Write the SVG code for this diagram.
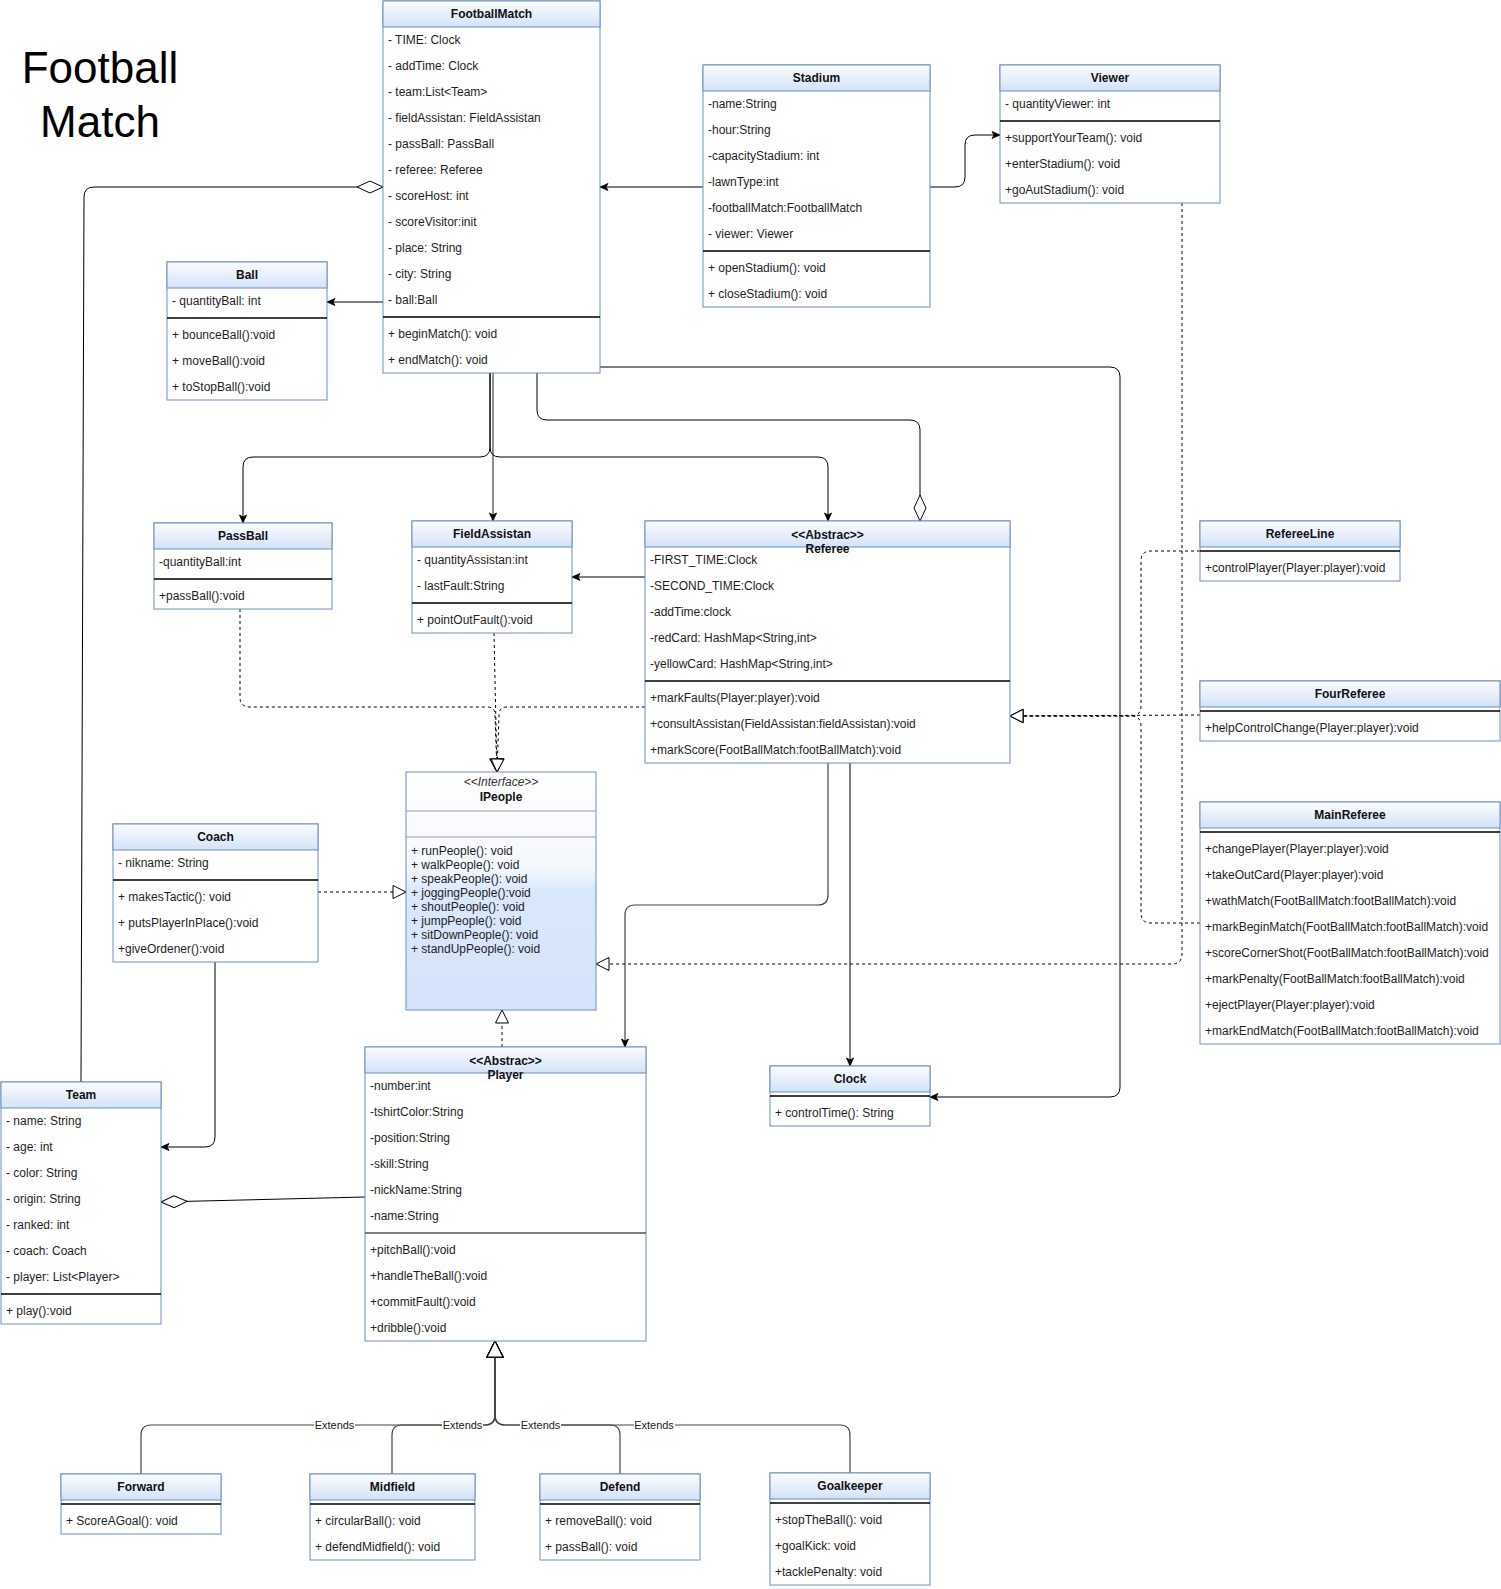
<svg xmlns="http://www.w3.org/2000/svg" width="1501" height="1589" viewBox="0 0 1501 1589">
<defs>
<linearGradient id="hg" x1="0" y1="0" x2="0" y2="1">
<stop offset="0" stop-color="#fbfcfe"/>
<stop offset="1" stop-color="#d3e2f8"/>
</linearGradient>
<linearGradient id="ig" x1="0" y1="0" x2="0" y2="1">
<stop offset="0" stop-color="#ffffff"/>
<stop offset="0.4" stop-color="#f4f8fe"/>
<stop offset="0.5" stop-color="#dae8fc"/>
<stop offset="1" stop-color="#d4e3f9"/>
</linearGradient>
<marker id="arr" markerWidth="10" markerHeight="10" refX="8" refY="3.5" orient="auto" markerUnits="userSpaceOnUse" overflow="visible">
<path d="M0,0 L8,3.5 L0,7 L2,3.5 z" fill="#000" stroke="#000" stroke-width="0.8" stroke-dasharray="none"/>
</marker>
<marker id="tri" markerWidth="14" markerHeight="14" refX="13" refY="6.5" orient="auto" markerUnits="userSpaceOnUse" overflow="visible">
<path d="M0,0 L13,6.5 L0,13 z" fill="#fff" stroke="#000" stroke-width="1" stroke-dasharray="none"/>
</marker>
<marker id="tri2" markerWidth="18" markerHeight="18" refX="16" refY="8" orient="auto" markerUnits="userSpaceOnUse" overflow="visible">
<path d="M0,0 L16,8 L0,16 z" fill="#fff" stroke="#000" stroke-width="1.2" stroke-dasharray="none"/>
</marker>
<marker id="dia" markerWidth="28" markerHeight="14" refX="26" refY="6" orient="auto" markerUnits="userSpaceOnUse" overflow="visible">
<path d="M0,6 L13,0 L26,6 L13,12 z" fill="#fff" stroke="#000" stroke-width="1" stroke-dasharray="none"/>
</marker>
</defs>
<style>
.b{fill:#fff;stroke:#6c8ebf;stroke-width:1}
.h{fill:url(#hg);stroke:#6c8ebf;stroke-width:1}
.s{stroke:#000;stroke-width:1.3}
.g{stroke:#999;stroke-width:1}
text{font-family:"Liberation Sans",Arial,Helvetica,sans-serif;font-size:12px;fill:#1e1e1e}
.t{font-weight:bold;text-anchor:middle;fill:#111}
.st{font-style:italic;text-anchor:middle;fill:#333}
.ttl{font-size:44px;text-anchor:middle;fill:#000}
.lbl{font-size:11px;text-anchor:middle;fill:#222}
.c{fill:none;stroke:#000;stroke-width:1}
.cg{fill:none;stroke:#444;stroke-width:1.2}
.d{fill:none;stroke:#000;stroke-width:1;stroke-dasharray:3 3}
</style>

<g id="title">
<text class="ttl" x="100" y="83">Football</text>
<text class="ttl" x="100" y="137">Match</text>
</g>

<g id="connectors">
<path class="c" d="M703,187 L600,187" marker-end="url(#arr)"/>
<path class="c" d="M930,187 L955,187 Q965,187 965,177 L965,145 Q965,135 975,135 L1000,135" marker-end="url(#arr)"/>
<path class="c" d="M383,302 L327,302" marker-end="url(#arr)"/>
<path class="c" d="M81,1082 L84,197 Q84,187 94,187 L383,187" marker-end="url(#dia)"/>
<path class="c" d="M490,373 L490,447 Q490,457 480,457 L253,457 Q243,457 243,467 L243,523" marker-end="url(#arr)"/>
<path class="cg" d="M493,373 L493,521" marker-end="url(#arr)"/>
<path class="c" d="M490,373 L490,447 Q490,457 500,457 L818,457 Q828,457 828,467 L828,521" marker-end="url(#arr)"/>
<path class="c" d="M537,373 L537,410 Q537,420 547,420 L910,420 Q920,420 920,430 L920,521" marker-end="url(#dia)"/>
<path class="c" d="M600,367 L1110,367 Q1120,367 1120,377 L1120,1087 Q1120,1097 1110,1097 L930,1097" marker-end="url(#arr)"/>
<path class="c" d="M645,577 L572,577" marker-end="url(#arr)"/>
<path class="cg" d="M828,763 L828,895 Q828,905 818,905 L635,905 Q625,905 625,915 L625,1047" marker-end="url(#arr)"/>
<path class="c" d="M850,763 L850,1066" marker-end="url(#arr)"/>
<path class="c" d="M215,962 L215,1137 Q215,1147 205,1147 L161,1147" marker-end="url(#arr)"/>
<path class="c" d="M365,1197 L161,1202" marker-end="url(#dia)"/>
<path class="d" d="M240,609 L240,697 Q240,707 250,707 L487,707 Q495,707 495,715 L497,772" marker-end="url(#tri)"/>
<path class="d" d="M494,633 L497,772" marker-end="url(#tri)"/>
<path class="d" d="M645,707 L507,707 Q499,707 499,715 L497,772" marker-end="url(#tri)"/>
<path class="d" d="M318,892 L406,892" marker-end="url(#tri)"/>
<path class="d" d="M1182,203 L1182,954 Q1182,964 1172,964 L596,964" marker-end="url(#tri)"/>
<path class="d" d="M502,1047 L502,1010" marker-end="url(#tri)"/>
<path class="d" d="M1200,551 L1151,551 Q1141,551 1141,561 L1141,706 Q1141,716 1131,716 L1010,716" marker-end="url(#tri)"/>
<path class="d" d="M1200,715 L1010,716" marker-end="url(#tri)"/>
<path class="d" d="M1200,923 L1151,923 Q1141,923 1141,913 L1141,726 Q1141,716 1131,716 L1010,716" marker-end="url(#tri)"/>
<path class="cg" d="M141,1474 L141,1435 Q141,1425 151,1425 L485,1425 Q495,1425 495,1415 L495,1341" marker-end="url(#tri2)"/>
<path class="cg" d="M392,1474 L392,1435 Q392,1425 402,1425 L485,1425 Q495,1425 495,1415 L495,1341" marker-end="url(#tri2)"/>
<path class="cg" d="M620,1474 L620,1435 Q620,1425 610,1425 L505,1425 Q495,1425 495,1415 L495,1341" marker-end="url(#tri2)"/>
<path class="cg" d="M850,1473 L850,1435 Q850,1425 840,1425 L505,1425 Q495,1425 495,1415 L495,1341" marker-end="url(#tri2)"/>
<rect x="314" y="1419" width="41" height="12" fill="#fff"/>
<text class="lbl" x="334.5" y="1429">Extends</text>
<rect x="442" y="1419" width="41" height="12" fill="#fff"/>
<text class="lbl" x="462.5" y="1429">Extends</text>
<rect x="520" y="1419" width="41" height="12" fill="#fff"/>
<text class="lbl" x="540.5" y="1429">Extends</text>
<rect x="634" y="1419" width="41" height="12" fill="#fff"/>
<text class="lbl" x="654" y="1429">Extends</text>
</g>

<g id="FootballMatch">
<rect class="b" x="383" y="1" width="217" height="372"/>
<rect class="h" x="383" y="1" width="217" height="26"/>
<text class="t" x="491.5" y="18">FootballMatch</text>
<text x="388" y="44">- TIME: Clock</text>
<text x="388" y="70">- addTime: Clock</text>
<text x="388" y="96">- team:List&lt;Team&gt;</text>
<text x="388" y="122">- fieldAssistan: FieldAssistan</text>
<text x="388" y="148">- passBall: PassBall</text>
<text x="388" y="174">- referee: Referee</text>
<text x="388" y="200">- scoreHost: int</text>
<text x="388" y="226">- scoreVisitor:init</text>
<text x="388" y="252">- place: String</text>
<text x="388" y="278">- city: String</text>
<text x="388" y="304">- ball:Ball</text>
<line class="s" x1="383" y1="317" x2="600" y2="317"/>
<text x="388" y="338">+ beginMatch(): void</text>
<text x="388" y="364">+ endMatch(): void</text>
</g>

<g id="Stadium">
<rect class="b" x="703" y="65" width="227" height="242"/>
<rect class="h" x="703" y="65" width="227" height="26"/>
<text class="t" x="816.5" y="82">Stadium</text>
<text x="708" y="108">-name:String</text>
<text x="708" y="134">-hour:String</text>
<text x="708" y="160">-capacityStadium: int</text>
<text x="708" y="186">-lawnType:int</text>
<text x="708" y="212">-footballMatch:FootballMatch</text>
<text x="708" y="238">- viewer: Viewer</text>
<line class="s" x1="703" y1="251" x2="930" y2="251"/>
<text x="708" y="272">+ openStadium(): void</text>
<text x="708" y="298">+ closeStadium(): void</text>
</g>

<g id="Viewer">
<rect class="b" x="1000" y="65" width="220" height="138"/>
<rect class="h" x="1000" y="65" width="220" height="26"/>
<text class="t" x="1110" y="82">Viewer</text>
<text x="1005" y="108">- quantityViewer: int</text>
<line class="s" x1="1000" y1="121" x2="1220" y2="121"/>
<text x="1005" y="142">+supportYourTeam(): void</text>
<text x="1005" y="168">+enterStadium(): void</text>
<text x="1005" y="194">+goAutStadium(): void</text>
</g>

<g id="Ball">
<rect class="b" x="167" y="262" width="160" height="138"/>
<rect class="h" x="167" y="262" width="160" height="26"/>
<text class="t" x="247" y="279">Ball</text>
<text x="172" y="305">- quantityBall: int</text>
<line class="s" x1="167" y1="318" x2="327" y2="318"/>
<text x="172" y="339">+ bounceBall():void</text>
<text x="172" y="365">+ moveBall():void</text>
<text x="172" y="391">+ toStopBall():void</text>
</g>

<g id="PassBall">
<rect class="b" x="154" y="523" width="178" height="86"/>
<rect class="h" x="154" y="523" width="178" height="26"/>
<text class="t" x="243" y="540">PassBall</text>
<text x="159" y="566">-quantityBall:int</text>
<line class="s" x1="154" y1="579" x2="332" y2="579"/>
<text x="159" y="600">+passBall():void</text>
</g>

<g id="FieldAssistan">
<rect class="b" x="412" y="521" width="160" height="112"/>
<rect class="h" x="412" y="521" width="160" height="26"/>
<text class="t" x="492" y="538">FieldAssistan</text>
<text x="417" y="564">- quantityAssistan:int</text>
<text x="417" y="590">- lastFault:String</text>
<line class="s" x1="412" y1="603" x2="572" y2="603"/>
<text x="417" y="624">+ pointOutFault():void</text>
</g>

<g id="Referee">
<rect class="b" x="645" y="521" width="365" height="242"/>
<rect class="h" x="645" y="521" width="365" height="26"/>
<text class="t" x="827.5" y="539">&lt;&lt;Abstrac&gt;&gt;</text>
<text class="t" x="827.5" y="553">Referee</text>
<text x="650" y="564">-FIRST_TIME:Clock</text>
<text x="650" y="590">-SECOND_TIME:Clock</text>
<text x="650" y="616">-addTime:clock</text>
<text x="650" y="642">-redCard: HashMap&lt;String,int&gt;</text>
<text x="650" y="668">-yellowCard: HashMap&lt;String,int&gt;</text>
<line class="s" x1="645" y1="681" x2="1010" y2="681"/>
<text x="650" y="702">+markFaults(Player:player):void</text>
<text x="650" y="728">+consultAssistan(FieldAssistan:fieldAssistan):void</text>
<text x="650" y="754">+markScore(FootBallMatch:footBallMatch):void</text>
</g>

<g id="RefereeLine">
<rect class="b" x="1200" y="521" width="200" height="60"/>
<rect class="h" x="1200" y="521" width="200" height="26"/>
<text class="t" x="1300" y="538">RefereeLine</text>
<line class="s" x1="1200" y1="551" x2="1400" y2="551"/>
<text x="1205" y="572">+controlPlayer(Player:player):void</text>
</g>

<g id="FourReferee">
<rect class="b" x="1200" y="681" width="300" height="60"/>
<rect class="h" x="1200" y="681" width="300" height="26"/>
<text class="t" x="1350" y="698">FourReferee</text>
<line class="s" x1="1200" y1="711" x2="1500" y2="711"/>
<text x="1205" y="732">+helpControlChange(Player:player):void</text>
</g>

<g id="MainReferee">
<rect class="b" x="1200" y="802" width="300" height="242"/>
<rect class="h" x="1200" y="802" width="300" height="26"/>
<text class="t" x="1350" y="819">MainReferee</text>
<line class="s" x1="1200" y1="832" x2="1500" y2="832"/>
<text x="1205" y="853">+changePlayer(Player:player):void</text>
<text x="1205" y="879">+takeOutCard(Player:player):void</text>
<text x="1205" y="905">+wathMatch(FootBallMatch:footBallMatch):void</text>
<text x="1205" y="931">+markBeginMatch(FootBallMatch:footBallMatch):void</text>
<text x="1205" y="957">+scoreCornerShot(FootBallMatch:footBallMatch):void</text>
<text x="1205" y="983">+markPenalty(FootBallMatch:footBallMatch):void</text>
<text x="1205" y="1009">+ejectPlayer(Player:player):void</text>
<text x="1205" y="1035">+markEndMatch(FootBallMatch:footBallMatch):void</text>
</g>

<g id="IPeople">
<rect x="406" y="772" width="190" height="238" fill="url(#ig)" stroke="#6c8ebf"/>
<line class="g" x1="406" y1="811" x2="596" y2="811"/>
<line class="g" x1="406" y1="837" x2="596" y2="837"/>
<text class="st" x="501" y="786">&lt;&lt;Interface&gt;&gt;</text>
<text class="t" x="501" y="801">IPeople</text>
<text x="411" y="855">+ runPeople(): void</text>
<text x="411" y="869">+ walkPeople(): void</text>
<text x="411" y="883">+ speakPeople(): void</text>
<text x="411" y="897">+ joggingPeople():void</text>
<text x="411" y="911">+ shoutPeople(): void</text>
<text x="411" y="925">+ jumpPeople(): void</text>
<text x="411" y="939">+ sitDownPeople(): void</text>
<text x="411" y="953">+ standUpPeople(): void</text>
</g>

<g id="Coach">
<rect class="b" x="113" y="824" width="205" height="138"/>
<rect class="h" x="113" y="824" width="205" height="26"/>
<text class="t" x="215.5" y="841">Coach</text>
<text x="118" y="867">- nikname: String</text>
<line class="s" x1="113" y1="880" x2="318" y2="880"/>
<text x="118" y="901">+ makesTactic(): void</text>
<text x="118" y="927">+ putsPlayerInPlace():void</text>
<text x="118" y="953">+giveOrdener():void</text>
</g>

<g id="Team">
<rect class="b" x="1" y="1082" width="160" height="242"/>
<rect class="h" x="1" y="1082" width="160" height="26"/>
<text class="t" x="81" y="1099">Team</text>
<text x="6" y="1125">- name: String</text>
<text x="6" y="1151">- age: int</text>
<text x="6" y="1177">- color: String</text>
<text x="6" y="1203">- origin: String</text>
<text x="6" y="1229">- ranked: int</text>
<text x="6" y="1255">- coach: Coach</text>
<text x="6" y="1281">- player: List&lt;Player&gt;</text>
<line class="s" x1="1" y1="1294" x2="161" y2="1294"/>
<text x="6" y="1315">+ play():void</text>
</g>

<g id="Player">
<rect class="b" x="365" y="1047" width="281" height="294"/>
<rect class="h" x="365" y="1047" width="281" height="26"/>
<text class="t" x="505.5" y="1065">&lt;&lt;Abstrac&gt;&gt;</text>
<text class="t" x="505.5" y="1079">Player</text>
<text x="370" y="1090">-number:int</text>
<text x="370" y="1116">-tshirtColor:String</text>
<text x="370" y="1142">-position:String</text>
<text x="370" y="1168">-skill:String</text>
<text x="370" y="1194">-nickName:String</text>
<text x="370" y="1220">-name:String</text>
<line x1="365" y1="1233" x2="646" y2="1233" stroke="#555" stroke-width="1.6"/>
<text x="370" y="1254">+pitchBall():void</text>
<text x="370" y="1280">+handleTheBall():void</text>
<text x="370" y="1306">+commitFault():void</text>
<text x="370" y="1332">+dribble():void</text>
</g>

<g id="Clock">
<rect class="b" x="770" y="1066" width="160" height="60"/>
<rect class="h" x="770" y="1066" width="160" height="26"/>
<text class="t" x="850" y="1083">Clock</text>
<line class="s" x1="770" y1="1096" x2="930" y2="1096"/>
<text x="775" y="1117">+ controlTime(): String</text>
</g>

<g id="Forward">
<rect class="b" x="61" y="1474" width="160" height="60"/>
<rect class="h" x="61" y="1474" width="160" height="26"/>
<text class="t" x="141" y="1491">Forward</text>
<line class="s" x1="61" y1="1504" x2="221" y2="1504"/>
<text x="66" y="1525">+ ScoreAGoal(): void</text>
</g>

<g id="Midfield">
<rect class="b" x="310" y="1474" width="165" height="86"/>
<rect class="h" x="310" y="1474" width="165" height="26"/>
<text class="t" x="392.5" y="1491">Midfield</text>
<line class="s" x1="310" y1="1504" x2="475" y2="1504"/>
<text x="315" y="1525">+ circularBall(): void</text>
<text x="315" y="1551">+ defendMidfield(): void</text>
</g>

<g id="Defend">
<rect class="b" x="540" y="1474" width="160" height="86"/>
<rect class="h" x="540" y="1474" width="160" height="26"/>
<text class="t" x="620" y="1491">Defend</text>
<line class="s" x1="540" y1="1504" x2="700" y2="1504"/>
<text x="545" y="1525">+ removeBall(): void</text>
<text x="545" y="1551">+ passBall(): void</text>
</g>

<g id="Goalkeeper">
<rect class="b" x="770" y="1473" width="160" height="112"/>
<rect class="h" x="770" y="1473" width="160" height="26"/>
<text class="t" x="850" y="1490">Goalkeeper</text>
<line class="s" x1="770" y1="1503" x2="930" y2="1503"/>
<text x="775" y="1524">+stopTheBall(): void</text>
<text x="775" y="1550">+goalKick: void</text>
<text x="775" y="1576">+tacklePenalty: void</text>
</g>
</svg>
